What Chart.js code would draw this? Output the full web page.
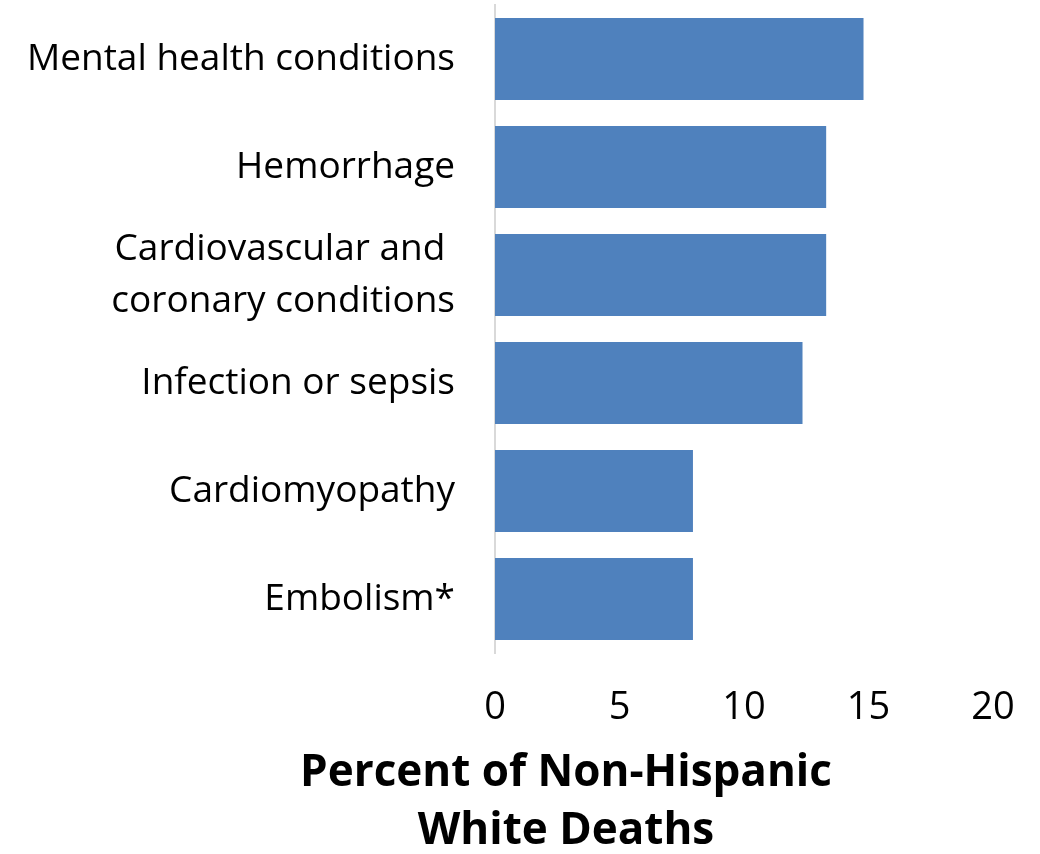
<!DOCTYPE html>
<html>
<head>
<meta charset="utf-8">
<script src="https://cdn.jsdelivr.net/npm/chart.js@4"></script>
<style>
  html, body { margin: 0; padding: 0; background: #ffffff; }
  #wrap { width: 1040px; height: 854px; position: relative; }
</style>
</head>
<body>
<div id="wrap"><canvas id="c" width="1040" height="854"></canvas></div>
<script>
const categories = [
  "Mental health conditions",
  "Hemorrhage",
  ["Cardiovascular and ", "coronary conditions"],
  "Infection or sepsis",
  "Cardiomyopathy",
  "Embolism*"
];
const percentValues = [14.8, 13.3, 13.3, 12.35, 7.95, 7.95];
const xTickValues = [0, 5, 10, 15, 20];
const axisTitle = ["Percent of Non-Hispanic", "White Deaths"];

const FONT = "'Open Sans', 'Noto Sans', 'Liberation Sans', sans-serif";

// Centre the bottom title block under the label+plot region (as in the original figure)
const shiftTitle = {
  id: 'shiftTitle',
  afterLayout(chart) {
    const tb = chart.titleBlock;
    if (tb) {
      tb.left = 139;
      tb.right = 993;
      tb.width = tb.right - tb.left;
    }
  }
};

new Chart(document.getElementById('c'), {
  type: 'bar',
  data: {
    labels: categories,
    datasets: [{
      data: percentValues,
      backgroundColor: '#4f81bd',
      borderWidth: 0,
      categoryPercentage: 1.0,
      barPercentage: 0.76
    }]
  },
  plugins: [shiftTitle],
  options: {
    indexAxis: 'y',
    responsive: false,
    animation: false,
    devicePixelRatio: 1,
    layout: { padding: { left: 0, right: 47, top: 5, bottom: 0 } },
    plugins: {
      legend: { display: false },
      tooltip: { enabled: false },
      title: {
        display: true,
        position: 'bottom',
        align: 'center',
        text: axisTitle,
        color: '#000000',
        padding: { top: 0, bottom: -6 },
        font: { family: FONT, size: 44, weight: 'bold', lineHeight: 58 / 44 }
      }
    },
    scales: {
      x: {
        min: 0, max: 20,
        afterBuildTicks: (s) => { s.ticks = xTickValues.map(v => ({ value: v })); },
        afterFit: (s) => { s.height = 91; s.paddingLeft = 0; s.paddingRight = 0; },
        grid: { display: false, drawTicks: false },
        border: { display: false },
        ticks: {
          color: '#000000',
          padding: 32,
          font: { family: FONT, size: 38, lineHeight: 1.2 }
        }
      },
      y: {
        afterFit: (s) => { s.width = 495; s.paddingTop = 0; s.paddingBottom = 0; },
        grid: { display: false, drawTicks: false },
        border: { display: true, color: '#d9d9d9', width: 2 },
        ticks: {
          autoSkip: false,
          color: '#000000',
          padding: 40,
          font: { family: FONT, size: 37, lineHeight: 52 / 37 }
        }
      }
    }
  }
});
</script>
</body>
</html>
